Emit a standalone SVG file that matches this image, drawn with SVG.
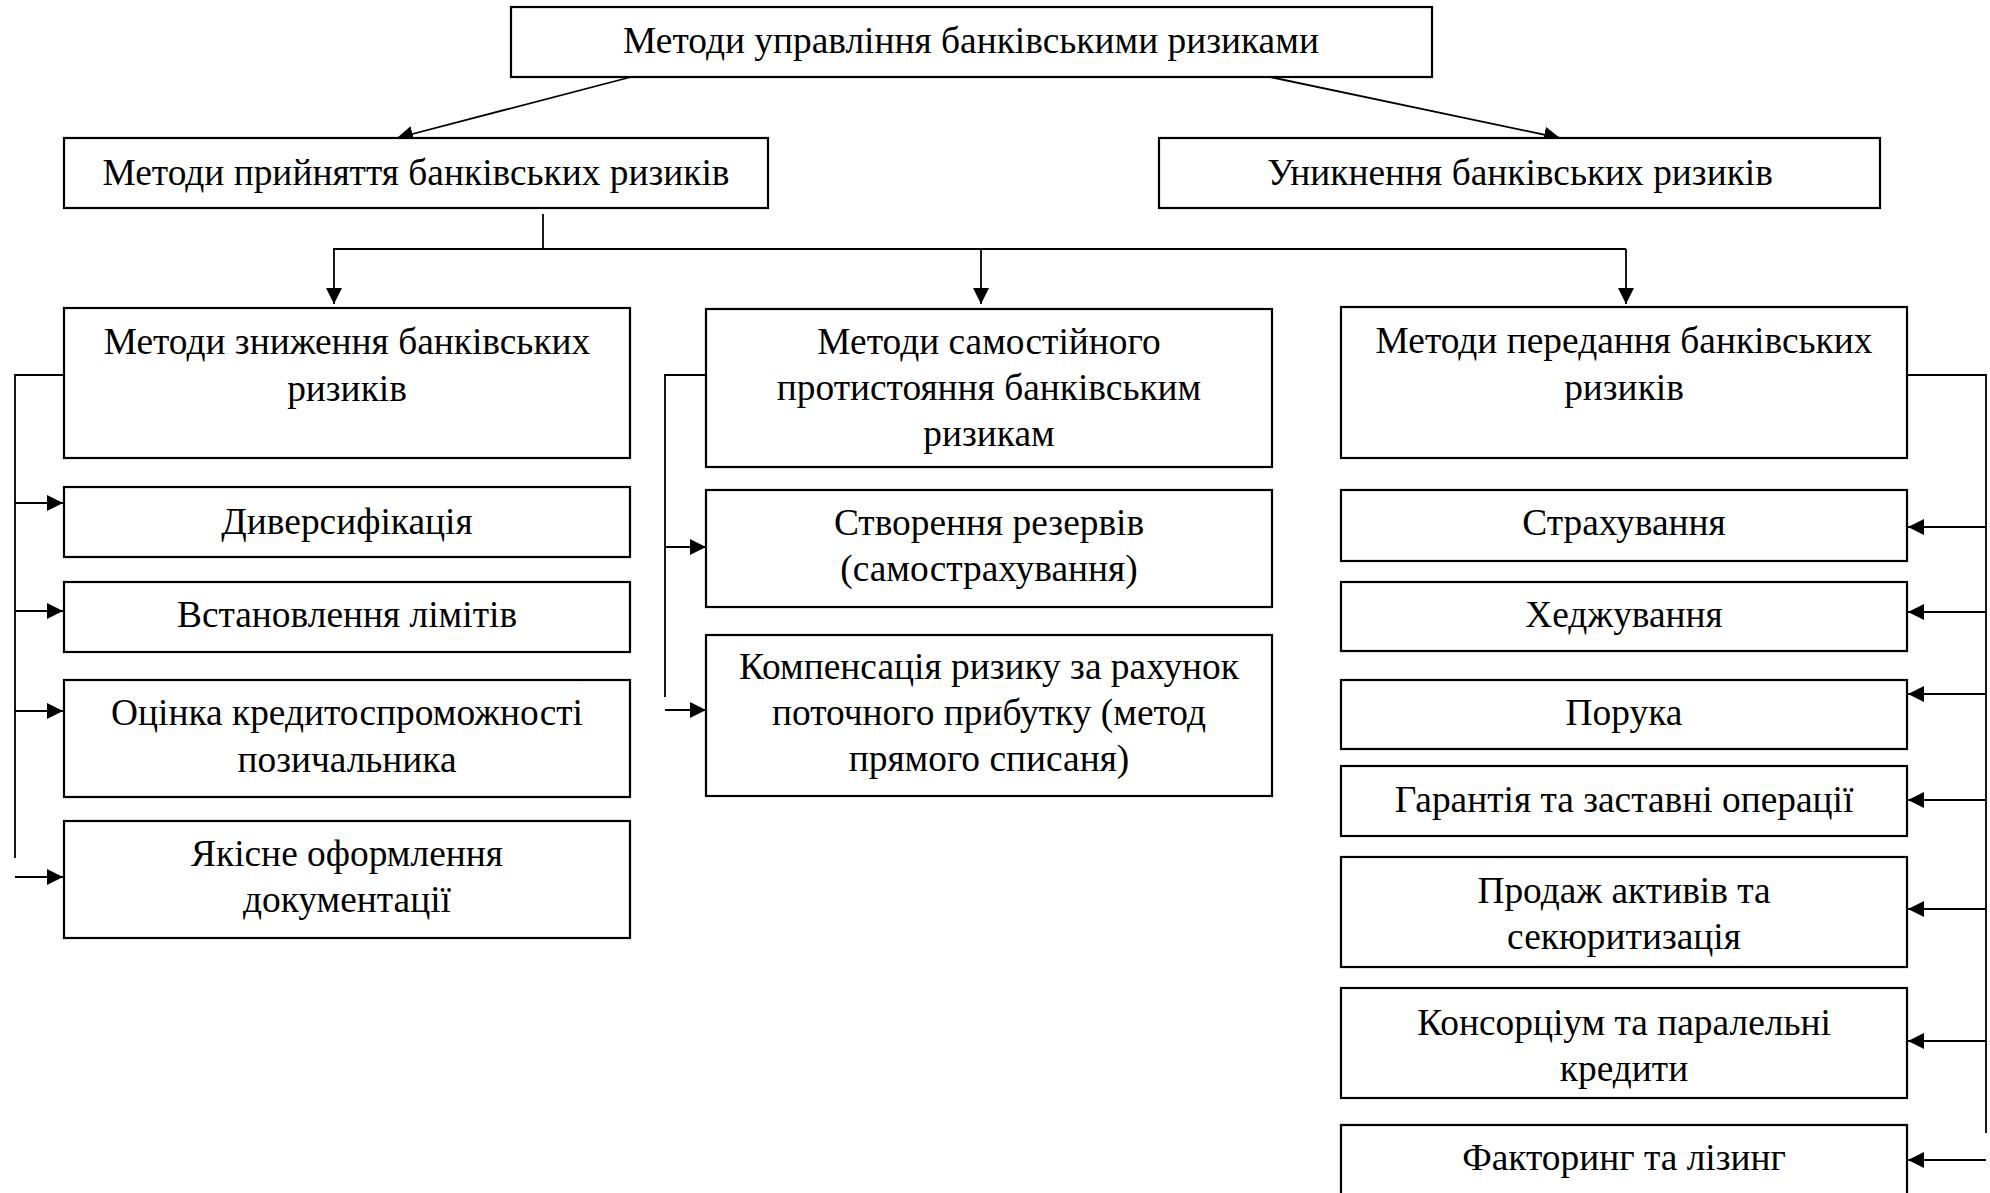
<svg xmlns="http://www.w3.org/2000/svg" width="1990" height="1193" viewBox="0 0 1990 1193">
<style>
.box{fill:#fff;stroke:#000;stroke-width:2.2}
.t{font-family:"Liberation Serif","Times New Roman",serif;font-size:37.4px;text-anchor:middle;fill:#000}
.c{fill:none;stroke:#000;stroke-width:1.8}
.a{fill:none;stroke:#000;stroke-width:1.8;marker-end:url(#ah)}
</style>
<defs>
<marker id="ah" markerUnits="userSpaceOnUse" markerWidth="17" markerHeight="16" refX="16" refY="8" orient="auto" viewBox="0 0 17 16">
<path d="M0,0 L16,8 L0,16 z" fill="#000"/>
</marker>
</defs>
<rect width="1990" height="1193" fill="#fff"/>
<g id="connectors">
<line class="a" x1="631" y1="77" x2="397" y2="138"/>
<line class="a" x1="1270" y1="77" x2="1560" y2="138"/>
<line class="c" x1="543" y1="214" x2="543" y2="249"/>
<line class="c" x1="333" y1="249" x2="1626" y2="249"/>
<line class="a" x1="334" y1="249" x2="334" y2="304"/>
<line class="a" x1="981" y1="249" x2="981" y2="304"/>
<line class="a" x1="1626" y1="249" x2="1626" y2="304"/>
<polyline class="c" points="63,375 15,375 15,858"/>
<line class="a" x1="15" y1="503" x2="63" y2="503"/>
<line class="a" x1="15" y1="611" x2="63" y2="611"/>
<line class="a" x1="15" y1="711" x2="63" y2="711"/>
<line class="a" x1="15" y1="877" x2="63" y2="877"/>
<polyline class="c" points="706,375 665,375 665,697"/>
<line class="a" x1="665" y1="547" x2="706" y2="547"/>
<line class="a" x1="665" y1="710" x2="706" y2="710"/>
<polyline class="c" points="1908,375 1986,375 1986,1133"/>
<line class="a" x1="1986" y1="527" x2="1908" y2="527"/>
<line class="a" x1="1986" y1="612" x2="1908" y2="612"/>
<line class="a" x1="1986" y1="694" x2="1908" y2="694"/>
<line class="a" x1="1986" y1="800" x2="1908" y2="800"/>
<line class="a" x1="1986" y1="909" x2="1908" y2="909"/>
<line class="a" x1="1986" y1="1041" x2="1908" y2="1041"/>
<line class="a" x1="1986" y1="1160" x2="1908" y2="1160"/>
</g>
<g id="n-root"><rect class="box" x="511" y="7" width="921" height="70"/><text class="t" x="971" y="53">Методи управління банківськими ризиками</text></g>
<g id="n-accept"><rect class="box" x="64" y="138" width="704" height="70"/><text class="t" x="416" y="185">Методи прийняття банківських ризиків</text></g>
<g id="n-avoid"><rect class="box" x="1159" y="138" width="721" height="70"/><text class="t" x="1520" y="185">Уникнення банківських ризиків</text></g>
<g id="n-reduce"><rect class="box" x="64" y="308" width="566" height="150"/><text class="t" x="347" y="354">Методи зниження банківських</text><text class="t" x="347" y="401">ризиків</text></g>
<g id="n-divers"><rect class="box" x="64" y="487" width="566" height="70"/><text class="t" x="347" y="534">Диверсифікація</text></g>
<g id="n-limits"><rect class="box" x="64" y="582" width="566" height="70"/><text class="t" x="347" y="627">Встановлення лімітів</text></g>
<g id="n-credit"><rect class="box" x="64" y="680" width="566" height="117"/><text class="t" x="347" y="725">Оцінка кредитоспроможності</text><text class="t" x="347" y="772">позичальника</text></g>
<g id="n-docs"><rect class="box" x="64" y="821" width="566" height="117"/><text class="t" x="347" y="866">Якісне оформлення</text><text class="t" x="347" y="912">документації</text></g>
<g id="n-self"><rect class="box" x="706" y="309" width="566" height="158"/><text class="t" x="989" y="354">Методи самостійного</text><text class="t" x="989" y="400">протистояння банківським</text><text class="t" x="989" y="446">ризикам</text></g>
<g id="n-reserves"><rect class="box" x="706" y="490" width="566" height="117"/><text class="t" x="989" y="535">Створення резервів</text><text class="t" x="989" y="581">(самострахування)</text></g>
<g id="n-comp"><rect class="box" x="706" y="635" width="566" height="161"/><text class="t" x="989" y="679">Компенсація ризику за рахунок</text><text class="t" x="989" y="725">поточного прибутку (метод</text><text class="t" x="989" y="771">прямого списаня)</text></g>
<g id="n-transfer"><rect class="box" x="1341" y="307" width="566" height="151"/><text class="t" x="1624" y="353">Методи передання банківських</text><text class="t" x="1624" y="400">ризиків</text></g>
<g id="n-insur"><rect class="box" x="1341" y="490" width="566" height="71"/><text class="t" x="1624" y="535">Страхування</text></g>
<g id="n-hedge"><rect class="box" x="1341" y="582" width="566" height="69"/><text class="t" x="1624" y="627">Хеджування</text></g>
<g id="n-surety"><rect class="box" x="1341" y="680" width="566" height="69"/><text class="t" x="1624" y="725">Порука</text></g>
<g id="n-guarant"><rect class="box" x="1341" y="766" width="566" height="70"/><text class="t" x="1624" y="812">Гарантія та заставні операції</text></g>
<g id="n-sale"><rect class="box" x="1341" y="857" width="566" height="110"/><text class="t" x="1624" y="903">Продаж активів та</text><text class="t" x="1624" y="949">секюритизація</text></g>
<g id="n-consort"><rect class="box" x="1341" y="988" width="566" height="110"/><text class="t" x="1624" y="1035">Консорціум та паралельні</text><text class="t" x="1624" y="1081">кредити</text></g>
<g id="n-factor"><rect class="box" x="1341" y="1125" width="566" height="75"/><text class="t" x="1624" y="1170">Факторинг та лізинг</text></g>
</svg>
